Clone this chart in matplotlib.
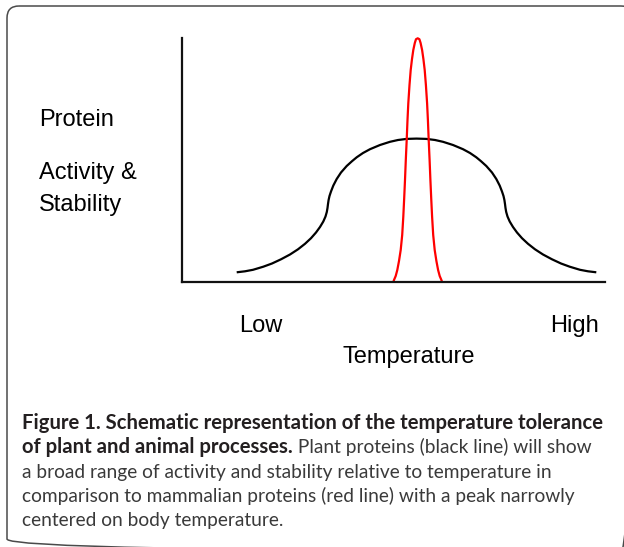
import matplotlib
matplotlib.use("Agg")
import matplotlib.pyplot as plt
from matplotlib.patches import FancyBboxPatch

# ---------------- data (arbitrary units) ----------------
plant_temp = [54.7, 63, 71, 81.3, 90, 99, 108, 116, 123, 129, 134, 138, 141.3, 143.5,
              144.8, 145.5, 146, 146.6, 147.5, 149, 151.3, 154.7, 159, 164.7, 170,
              174.7, 181, 188, 198, 208, 216, 224.7, 234.5,
              244.3, 253, 261, 271, 281, 288, 294.3, 299, 304.3, 310, 314.3, 317.7,
              320, 321.5, 322.4, 323, 323.5, 324.2, 325.5, 327.7, 331, 335, 340, 346,
              353, 361, 370, 379, 387.7, 398, 406, 414.3]
plant_activity = [9.7, 10.7, 12.2, 15.3, 18.5, 22.7, 27.5, 32.7, 38.2, 43.8, 49.5, 55,
                  60.5, 65.5, 70, 74, 78, 82, 86, 90.5, 96.4, 103, 109.5, 116, 120.8,
                  124.7, 129, 132.8, 137, 140.2, 142, 143.1, 143.4,
                  143.1, 142, 140.2, 137, 132.8, 129, 124.7, 120.8, 116, 109.5, 103,
                  96.4, 90.5, 86, 82, 78, 74, 70, 65.5, 60.5, 55, 49.5, 43.8, 38.2,
                  32.7, 27.5, 22.7, 18.5, 15.3, 12.2, 10.7, 9.7]

mammal_temp = [211.3, 212, 213.7, 215.3, 217, 218.7, 220.2, 221.3, 222.2, 223, 223.8,
               224.7, 225.5, 226.3, 227.5, 228.7, 230, 231.3, 232.8, 234, 235.7,
               237.4, 238.6, 240.1, 241.4, 242.7, 243.9, 245.1, 245.9, 246.7, 247.6,
               248.4, 249.2, 250.1, 251.2, 252.7, 254.4, 256.1, 257.7, 259.4, 260.1]
mammal_activity = [0, 2, 6, 12, 21, 32, 47, 65.3, 84, 102, 122, 142, 162, 178.7, 197,
                   212, 223, 232, 239, 242.8, 243.7,
                   242.8, 239, 232, 223, 212, 197, 178.7, 162, 142, 122, 102, 84, 65.3,
                   47, 32, 21, 12, 6, 2, 0]

y_label_lines = ["Protein", "Activity &", "Stability"]
x_tick_labels = ["Low", "High"]
x_label = "Temperature"

caption_bold_1 = "Figure 1. Schematic representation of the temperature tolerance"
caption_bold_2 = "of plant and animal processes."
caption_reg_2 = " Plant proteins (black line) will show"
caption_reg_lines = ["a broad range of activity and stability relative to temperature in",
                     "comparison to mammalian proteins (red line) with a peak narrowly",
                     "centered on body temperature."]

# ---------------- figure ----------------
W, H = 624, 547
fig = plt.figure(figsize=(W / 100, H / 100), dpi=100)
fig.patch.set_facecolor("white")

# background overlay in pixel coordinates
bg = fig.add_axes([0, 0, 1, 1], zorder=0)
bg.set_xlim(0, W)
bg.set_ylim(H, 0)
bg.axis("off")
box = FancyBboxPatch((7, 6), 626, 545, boxstyle="round,pad=0,rounding_size=12",
                     ec="#4a4a4a", fc="none", lw=1.1, clip_on=False)
bg.add_patch(box)

# plot axes
ax = fig.add_axes([182 / W, (H - 282) / H, 423 / W, 244 / H], zorder=1)
ax.patch.set_alpha(0)
ax.set_xlim(0, 423)
ax.set_ylim(0, 244)
for s in ["top", "right"]:
    ax.spines[s].set_visible(False)
for s in ["left", "bottom"]:
    ax.spines[s].set_linewidth(1.6)
    ax.spines[s].set_color("#111111")
ax.set_xticks([])
ax.set_yticks([])

ax.plot(plant_temp, plant_activity, color="black", lw=1.6, clip_on=False,
        solid_capstyle="butt", solid_joinstyle="round")
ax.plot(mammal_temp, mammal_activity, color="#ff0000", lw=1.6, clip_on=False,
        solid_capstyle="butt", solid_joinstyle="round")

lab_font = dict(family=["Liberation Sans", "DejaVu Sans"], size=17, color="black")
bg.text(39, 125.5, y_label_lines[0], ha="left", va="baseline", **lab_font)
bg.text(39, 178.5, y_label_lines[1], ha="left", va="baseline", **lab_font)
bg.text(39, 211.5, y_label_lines[2], ha="left", va="baseline", **lab_font)
bg.text(239, 332, x_tick_labels[0], ha="left", va="baseline", **lab_font)
bg.text(599, 332, x_tick_labels[1], ha="right", va="baseline", **lab_font)
bg.text(408.5, 363.5, x_label, ha="center", va="baseline", **lab_font)

# caption
cap_family = ["Lato", "DejaVu Sans"]
renderer = fig.canvas.get_renderer()


def fit(t, target_w):
    bb = t.get_window_extent(renderer=renderer)
    t.set_fontsize(t.get_fontsize() * target_w / bb.width)


x0 = 22.5
bold_col = "#231f20"
reg_col = "#3a3a3a"
base = [428.8, 453.2, 477.6, 502.0, 526.4]
t1 = bg.text(x0, base[0], caption_bold_1, ha="left", va="baseline", family=cap_family,
             weight="bold", size=14, color=bold_col)
fit(t1, 585)
bold_size = t1.get_fontsize()

t3 = bg.text(x0, base[2], caption_reg_lines[0], ha="left", va="baseline", family=cap_family,
             size=14, color=reg_col)
fit(t3, 534)
reg_size = t3.get_fontsize()

t2b = bg.text(x0, base[1], caption_bold_2, ha="left", va="baseline", family=cap_family,
              weight="bold", size=bold_size, color=bold_col)
bb = t2b.get_window_extent(renderer=renderer)
bg.text(bb.x1, base[1], caption_reg_2, ha="left", va="baseline", family=cap_family,
        size=reg_size, color=reg_col)
bg.text(x0, base[3], caption_reg_lines[1], ha="left", va="baseline", family=cap_family,
        size=reg_size, color=reg_col)
bg.text(x0, base[4], caption_reg_lines[2], ha="left", va="baseline", family=cap_family,
        size=reg_size, color=reg_col)

fig.savefig("out.png", dpi=100, facecolor="white")
